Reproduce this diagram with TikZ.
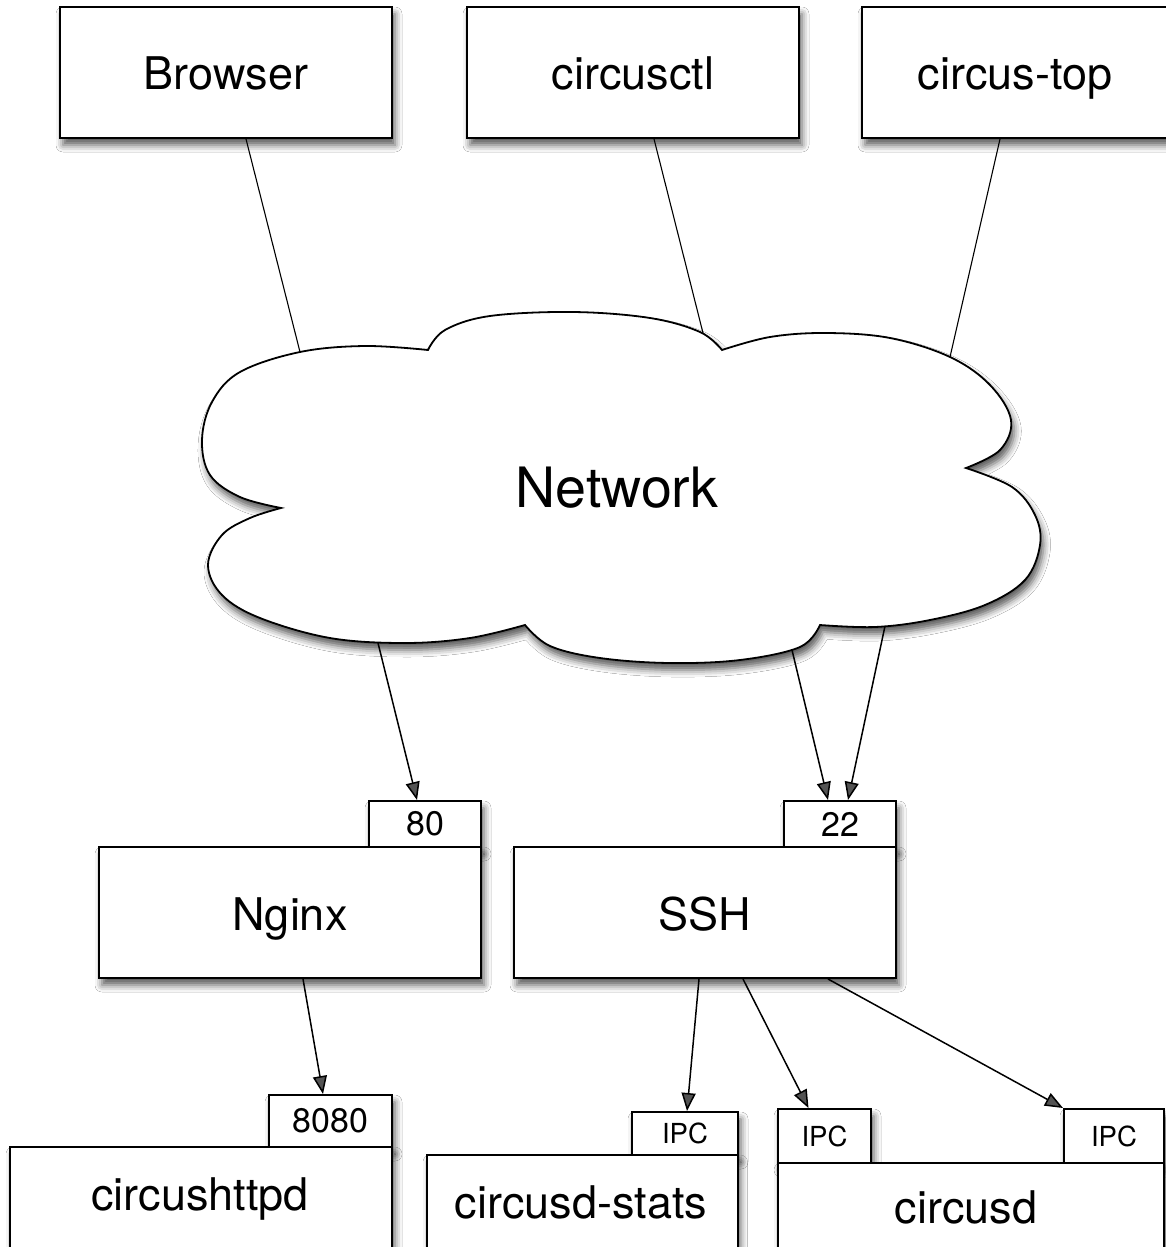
\documentclass[tikz,border=0pt]{standalone}
\usepackage{fontspec}
\setmainfont{TeX Gyre Heros}
\usetikzlibrary{arrows.meta,shadows.blur,calc}
\begin{document}
\begin{tikzpicture}[x=0.5pt,y=-0.5pt,
  shad/.style={blur shadow={shadow xshift=1.5pt,shadow yshift=-3.5pt,shadow blur radius=3.5pt,shadow opacity=65}},
  box/.style={draw=black,line width=1pt,fill=white,rectangle,inner sep=0pt,shad},
  bigbox/.style={box,minimum width=166pt,minimum height=65.5pt,font=\fontsize{22.5}{27}\selectfont,text height=17.5pt,text depth=0pt},
  midbox/.style={box,minimum width=191pt,minimum height=65.5pt,font=\fontsize{22.5}{27}\selectfont,text height=17.5pt,text depth=0pt},
  portbox/.style={box,minimum height=23pt,font=\fontsize{17}{20}\selectfont},
  ipcbox/.style={box,font=\fontsize{13.8}{16}\selectfont},
  lbl/.style={inner sep=0pt,font=\fontsize{22.5}{27}\selectfont},
  thinline/.style={line width=0.55pt},
  arr/.style={line width=0.75pt,-{Triangle[length=9pt,width=7pt]}},
  cloudsty/.style={draw=black,line width=0.9pt,fill=white,shad}
]
\path[use as bounding box,fill=white] (0,0) rectangle (1166,1247);

% top boxes
\node[bigbox] (browser) at (226,72.5) {Browser};
\node[bigbox] (ctl) at (633,72.5) {circusctl};
\node[bigbox,minimum width=153pt] (ctop) at (1015,72.5) {circus-top};

% cloud
\path[cloudsty]
  plot[smooth,tension=0.6] coordinates {(281,508) (240,497) (210,475) (202,440) (212,402) (240,372) (300,352) (365,346) (428,350)}
  -- plot[smooth,tension=0.6] coordinates {(428,350) (445,330) (490,316) (573,312) (650,318) (700,332) (722,350)}
  -- plot[smooth,tension=0.6] coordinates {(722,350) (770,337) (826,333) (890,338) (950,357) (990,385) (1011,420) (1000,450) (966,468)}
  -- plot[smooth,tension=0.6] coordinates {(966,468) (1012,487) (1035,515) (1040,545) (1025,580) (985,605) (930,620) (875,627) (820,625)}
  -- plot[smooth,tension=0.6] coordinates {(820,625) (800,647) (740,660) (669,663) (600,658) (550,646) (525,625)}
  -- plot[smooth,tension=0.6] coordinates {(525,625) (470,638) (405,643) (330,638) (260,618) (222,595) (208,565) (222,535) (250,518) (281,508)}
  -- cycle;
\node[inner sep=0pt,font=\fontsize{27.8}{33}\selectfont] (net) at (617,488) {Network};
\coordinate (cB) at (300,352);
\coordinate (cC) at (703,333);
\coordinate (cT) at (950,357);
\coordinate (cN) at (378,643);
\coordinate (cS1) at (792,650);
\coordinate (cS2) at (885,626);

% middle boxes
\node[portbox,minimum width=56pt] (p80) at (425,824) {80};
\node[midbox] (nginx) at (290,912.5) {Nginx};
\node[portbox,minimum width=56pt] (p22) at (840,824) {22};
\node[midbox] (ssh) at (705,912.5) {SSH};

% bottom boxes
\node[portbox,minimum width=61.5pt,minimum height=26pt] (p8080) at (330.5,1121) {8080};
\node[box,minimum width=191pt,minimum height=65.5pt] (httpd) at (201,1212.5) {};
\node[lbl] (httpdtxt) at (200,1199) {circushttpd};

\node[ipcbox,minimum width=53pt,minimum height=21.5pt] (ipcS) at (685,1133.5) {IPC};
\node[box,minimum width=155.25pt,minimum height=65.5pt] (stats) at (582.25,1220.5) {};
\node[lbl] (statstxt) at (581,1202) {circusd-stats};

\node[ipcbox,minimum width=46.5pt,minimum height=27pt] (ipcL) at (824.5,1136) {IPC};
\node[ipcbox,minimum width=50pt,minimum height=27pt] (ipcR) at (1114,1136) {IPC};
\node[box,minimum width=193pt,minimum height=65.5pt] (circusd) at (971,1228.5) {};
\node[lbl] (circusdtxt) at (966,1207) {circusd};

% connectors
\draw[thinline] ([xshift=10pt]browser.south) -- (cB);
\draw[thinline] ([xshift=10.5pt]ctl.south) -- (cC);
\draw[thinline] ([xshift=-7.5pt]ctop.south) -- (cT);

\draw[arr] (cN) -- ([xshift=-4pt]p80.north);
\draw[arr] (cS1) -- ([xshift=-6pt]p22.north);
\draw[arr] (cS2) -- ([xshift=4pt]p22.north);

\draw[arr] ([xshift=6.5pt]nginx.south) -- ([xshift=-3.75pt]p8080.north);
\draw[arr] ([xshift=-3pt]ssh.south) -- ([xshift=1pt]ipcS.north);
\draw[arr] ([xshift=19pt]ssh.south) -- ([xshift=-8pt]ipcL.north);
\draw[arr] ([xshift=61.5pt]ssh.south) -- (ipcR.north west);
\end{tikzpicture}
\end{document}
